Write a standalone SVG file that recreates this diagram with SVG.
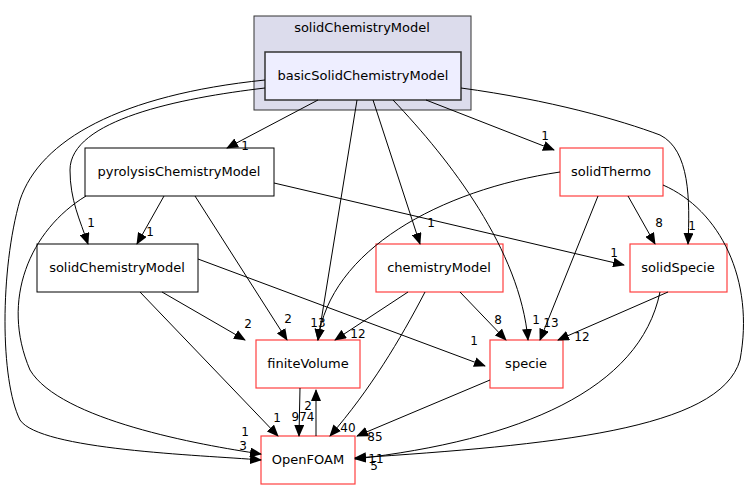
<svg xmlns="http://www.w3.org/2000/svg" width="748" height="489" viewBox="0 0 748 489">
<style>
text{font-family:"DejaVu Sans",sans-serif;font-size:13px;text-anchor:middle}
.l{font-size:12px}
.e{fill:none;stroke:#000;stroke-width:1}
.n{fill:#fff;stroke:#000;stroke-width:1}
.r{fill:#fff;stroke:#ff4040;stroke-width:1.2}
</style>
<defs><marker id="a" markerWidth="12" markerHeight="10" refX="11" refY="5" orient="auto" markerUnits="userSpaceOnUse"><path d="M0,0L12,5L0,10z"/></marker></defs>
<rect x="254" y="16" width="217" height="94" fill="#dcdcec" stroke="#333"/>
<text x="362" y="32">solidChemistryModel</text>
<g id="basic"><rect x="265" y="52" width="196" height="48" fill="#eeeeff" stroke="#333" stroke-width="1.5"/><text x="363" y="80">basicSolidChemistryModel</text></g>
<g id="pyro"><rect class="n" x="85" y="148" width="189" height="48"/><text x="179" y="176">pyrolysisChemistryModel</text></g>
<g id="solidThermo"><rect class="r" x="560" y="148" width="103" height="48"/><text x="611" y="176">solidThermo</text></g>
<g id="solidChem"><rect class="n" x="37" y="244" width="161" height="48"/><text x="117" y="272">solidChemistryModel</text></g>
<g id="chem"><rect class="r" x="376" y="244" width="127" height="48"/><text x="439" y="272">chemistryModel</text></g>
<g id="solidSpecie"><rect class="r" x="630" y="244" width="97" height="48"/><text x="678" y="272">solidSpecie</text></g>
<g id="fv"><rect class="r" x="256" y="340" width="104" height="48"/><text x="308" y="368">finiteVolume</text></g>
<g id="specie"><rect class="r" x="490" y="340" width="73" height="48"/><text x="526" y="368">specie</text></g>
<g id="of"><rect class="r" x="261" y="436" width="94" height="48"/><text x="308" y="464">OpenFOAM</text></g>
<g id="edges" class="e" marker-end="url(#a)">
<path class="e" d="M318,100L227,148"/>
<path class="e" d="M426,100L554,150"/>
<path class="e" d="M265,88C180,98 70,120 70,170C70,200 80,220 88,244"/>
<path class="e" d="M265,80C120,95 40,140 20,200C0,270 0,380 20,420C40,450 200,455 261,460"/>
<path class="e" d="M357,100L318,340"/>
<path class="e" d="M373,100L420,244"/>
<path class="e" d="M393,100C450,160 520,250 528,340"/>
<path class="e" d="M461,88C550,100 620,120 660,135C690,150 690,200 688,244"/>
<path class="e" d="M164,196L137,244"/>
<path class="e" d="M195,196L287,340"/>
<path class="e" d="M274,183L624,265"/>
<path class="e" d="M86,196C30,230 0,300 30,370C60,420 200,445 261,454"/>
<path class="e" d="M560,172C440,190 330,250 318,340"/>
<path class="e" d="M598,196L540,340"/>
<path class="e" d="M628,196L655,244"/>
<path class="e" d="M663,185C720,210 755,280 740,360C720,430 550,445 355,458"/>
<path class="e" d="M198,259L485,366"/>
<path class="e" d="M162,292L245,340"/>
<path class="e" d="M140,292L278,436"/>
<path class="e" d="M408,292L335,340"/>
<path class="e" d="M460,292L506,340"/>
<path class="e" d="M425,292C400,340 370,390 330,436"/>
<path class="e" d="M668,292L558,340"/>
<path class="e" d="M660,292C640,390 520,440 355,459"/>
<path class="e" d="M490,380L357,436"/>
<path class="e" d="M300,388L299,436"/>
<path class="e" d="M316,436L316,390"/>
</g>
<g class="l">
<text class="l" x="245" y="150">1</text>
<text class="l" x="545" y="140">1</text>
<text class="l" x="91" y="227">1</text>
<text class="l" x="692" y="230">1</text>
<text class="l" x="150" y="236">1</text>
<text class="l" x="614" y="257">1</text>
<text class="l" x="431" y="227">1</text>
<text class="l" x="659" y="227">8</text>
<text class="l" x="248" y="328">2</text>
<text class="l" x="288" y="323">2</text>
<text class="l" x="318" y="327">13</text>
<text class="l" x="358" y="338">12</text>
<text class="l" x="498" y="324">8</text>
<text class="l" x="536" y="324">1</text>
<text class="l" x="551" y="327">13</text>
<text class="l" x="582" y="341">12</text>
<text class="l" x="474" y="345">1</text>
<text class="l" x="277" y="422">1</text>
<text class="l" x="303" y="421">974</text>
<text class="l" x="308" y="410">2</text>
<text class="l" x="245" y="436">1</text>
<text class="l" x="243" y="450">3</text>
<text class="l" x="348" y="432">40</text>
<text class="l" x="375" y="441">85</text>
<text class="l" x="376" y="463">11</text>
<text class="l" x="374" y="470">5</text>
</g>
</svg>
